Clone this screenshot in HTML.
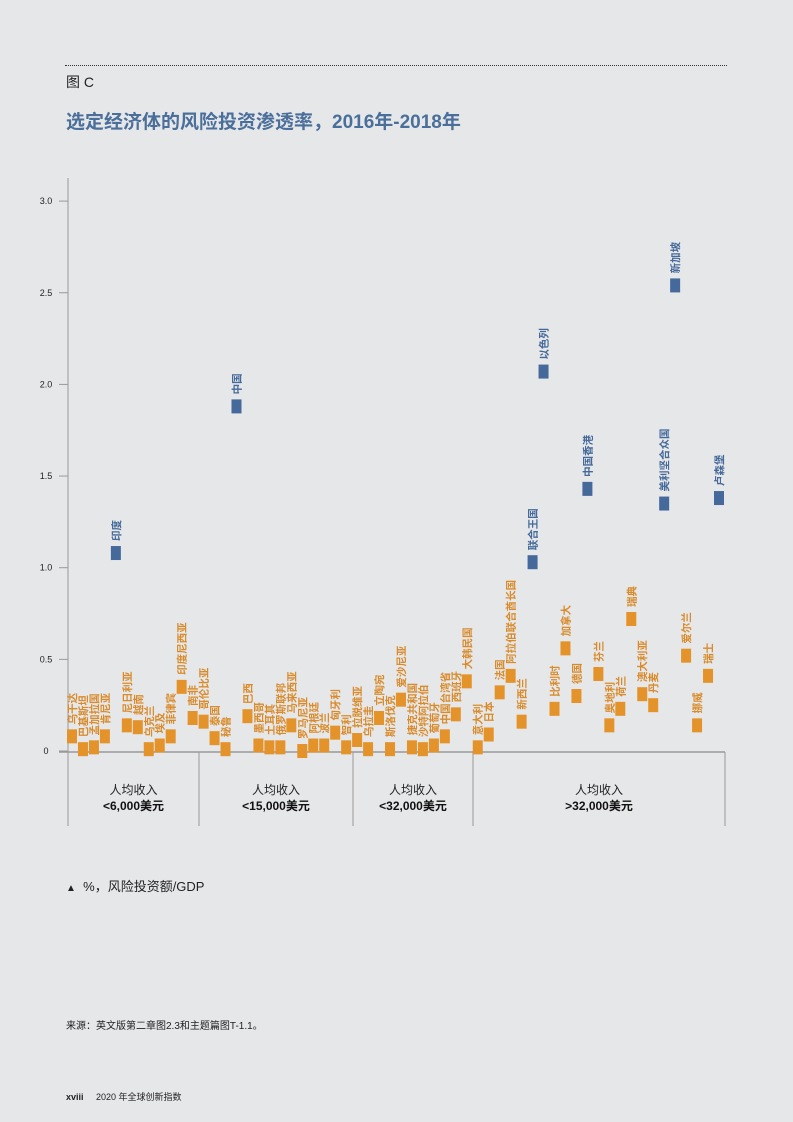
<!DOCTYPE html>
<html><head><meta charset="utf-8"><style>
body{margin:0;background:#e6e7e9;}
#page{position:relative;width:793px;height:1122px;background:#e6e7e9;font-family:"Liberation Sans","Noto Sans CJK SC",sans-serif;overflow:hidden}
.abs{position:absolute;white-space:nowrap}
</style></head><body>
<div id="page">
<div class="abs" style="left:65px;top:65px;width:662px;border-top:1px dotted #333"></div>
<div class="abs" style="left:66px;top:72px;font-size:14px;color:#222">图 C</div>
<div class="abs" style="left:66px;top:107px;font-size:19px;font-weight:bold;color:#4a6f9a">选定经济体的风险投资渗透率，2016年-2018年</div>
<svg id="chart" width="793" height="900" style="position:absolute;left:0;top:0"></svg>
<div class="abs" style="left:66px;top:876px;font-size:13px;color:#222"><span style="font-size:10px">▲</span>&nbsp;&nbsp;%，风险投资额/GDP</div>
<div class="abs" style="left:66px;top:1017px;font-size:10px;color:#222">来源：英文版第二章图2.3和主题篇图T-1.1。</div>
<div class="abs" style="left:66px;top:1090px;font-size:9px;color:#222"><b>xviii</b>&nbsp;&nbsp;&nbsp;&nbsp;&nbsp;2020 年全球创新指数</div>
</div>
<script>
const countries=["乌干达","巴基斯坦","孟加拉国","肯尼亚","印度","尼日利亚","越南","乌克兰","埃及","菲律宾","印度尼西亚","南非","哥伦比亚","泰国","秘鲁","中国","巴西","墨西哥","土耳其","俄罗斯联邦","马来西亚","罗马尼亚","阿根廷","波兰","匈牙利","智利","拉脱维亚","乌拉圭","立陶宛","斯洛伐克","爱沙尼亚","捷克共和国","沙特阿拉伯","葡萄牙","中国台湾省","西班牙","大韩民国","意大利","日本","法国","阿拉伯联合酋长国","新西兰","联合王国","以色列","比利时","加拿大","德国","中国香港","芬兰","奥地利","荷兰","瑞典","澳大利亚","丹麦","美利坚合众国","新加坡","爱尔兰","挪威","瑞士","卢森堡"];
const values=[0.08,0.01,0.02,0.08,1.08,0.14,0.13,0.01,0.03,0.08,0.35,0.18,0.16,0.07,0.01,1.88,0.19,0.03,0.02,0.02,0.14,0.0,0.03,0.03,0.10,0.02,0.06,0.01,0.18,0.01,0.28,0.02,0.01,0.03,0.08,0.20,0.38,0.02,0.09,0.32,0.41,0.16,1.03,2.07,0.23,0.56,0.30,1.43,0.42,0.14,0.23,0.72,0.31,0.25,1.35,2.54,0.52,0.14,0.41,1.38];
const highlight=["印度","中国","联合王国","以色列","中国香港","美利坚合众国","新加坡","卢森堡"];
const yTicks=[0,0.5,1.0,1.5,2.0,2.5,3.0];
const yTickLabels=["0","0.5","1.0","1.5","2.0","2.5","3.0"];
const groups=[{l1:"人均收入",l2:"<6,000美元",from:68,to:199},{l1:"人均收入",l2:"<15,000美元",from:199,to:353},{l1:"人均收入",l2:"<32,000美元",from:353,to:473},{l1:"人均收入",l2:">32,000美元",from:473,to:725}];
const svg=document.getElementById('chart');
const NS='http://www.w3.org/2000/svg';
const y=v=>751-v*183.3;
const xIndex=i=>72+i*(719-72)/(countries.length-1);
function mk(t,a){const e=document.createElementNS(NS,t);for(const k in a)e.setAttribute(k,a[k]);svg.appendChild(e);return e;}
let ax=mk('line',{x1:68,y1:178,x2:68,y2:752,stroke:'#999','stroke-width':1});


let bx=mk('line',{x1:59,y1:752,x2:725,y2:752,stroke:'#999','stroke-width':1.5});


yTicks.forEach((t,i)=>{
 const tk=mk('line',{x1:59,y1:y(t),x2:68,y2:y(t),stroke:'#999'});
 
 
 const tl=mk('text',{x:46,y:y(t)+3,'font-size':9,'text-anchor':'middle',fill:'#222'});
 tl.textContent=yTickLabels[i];
 
 
});
[68,199,353,473,725].forEach(xx=>{
 const s=mk('line',{x1:xx,y1:752,x2:xx,y2:826,stroke:'#999'});
 
 
});
groups.forEach(g=>{
 const cx=(g.from+g.to)/2;
 const a=mk('text',{x:cx,y:794,'font-size':12,'text-anchor':'middle',fill:'#222'});a.textContent=g.l1;
 
 
 const b=mk('text',{x:cx,y:810,'font-size':12,'font-weight':'bold','text-anchor':'middle',fill:'#111'});b.textContent=g.l2;
 
 
});
countries.forEach((c,i)=>{
 const hl=highlight.includes(c);
 const col=hl?'#44699a':'#e3932a';
 const cx=xIndex(i),cy=y(values[i]);
 const r=mk('rect',{x:cx-5,y:cy-7,width:10,height:14,fill:col});
 
 
 const t=mk('text',{x:0,y:0,'font-size':10.5,fill:hl?'#44699a':'#d98b2b','font-weight':'bold',transform:`translate(${cx+4},${cy-12}) rotate(-90)`});
 t.textContent=c;
 
 
});
</script>
</body></html>
